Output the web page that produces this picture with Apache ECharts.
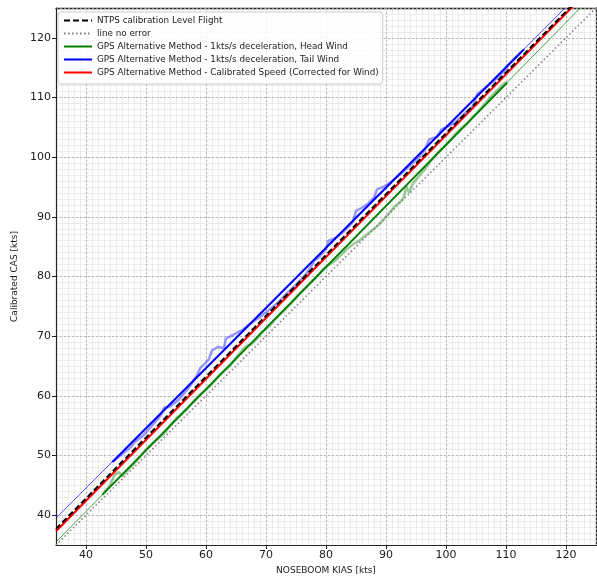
<!DOCTYPE html>
<html>
<head>
<meta charset="utf-8">
<script src="https://cdn.jsdelivr.net/npm/echarts@6/dist/echarts.min.js"></script>
<style>html,body{margin:0;padding:0;background:#fff;}#c{width:597px;height:580px;}</style>
</head>
<body>
<div id="c"></div>
<script>
// ---- data ----
const xTicks = [40, 50, 60, 70, 80, 90, 100, 110, 120];
const yTicks = [40, 50, 60, 70, 80, 90, 100, 110, 120];
const legendNames = [
  'NTPS calibration Level Flight',
  'line no error',
  'GPS Alternative Method - 1kts/s deceleration, Head Wind',
  'GPS Alternative Method - 1kts/s deceleration, Tail Wind',
  'GPS Alternative Method - Calibrated Speed (Corrected for Wind)'
];
// full-range lines (KIAS endpoints -> CAS endpoints)
const fullKIAS = [35, 125];
const ntpsCAS = [37.7, 129.5];
const noErrorCAS = [35, 125];
const windCorrCAS = [37.3, 129.2];
const headExtCAS = [35.5, 127.7];
const tailExtCAS = [39.5, 130.2];
// fitted segments over data range
const headFitKIAS = [42.7, 110.2];
const headFitCAS = [43.4, 112.5];
const tailFitKIAS = [44.4, 113.0];
const tailFitCAS = [48.9, 118.1];
// raw traces
const tailRawKIAS = [44.5,46.0,47.5,48.0,49.5,51.0,52.5,53.0,54.0,55.5,57.0,58.5,59.0,60.0,60.5,61.0,62.0,63.0,63.3,64.5,66.0,67.5,69.0,70.5,72.0,73.5,75.0,76.5,77.5,78.0,79.0,80.0,80.4,81.5,83.0,84.5,85.0,85.8,87.0,88.0,88.5,89.5,90.5,91.5,92.5,94.0,95.5,96.5,97.2,98.5,99.2,100.0,101.5,103.0,104.5,105.2,106.5,108.0,109.5,110.5,111.5,112.5];
const tailRawCAS  = [49.0,50.2,51.4,52.2,53.3,55.0,56.8,58.0,58.2,59.4,61.2,63.4,64.6,65.6,66.2,67.6,68.2,68.0,69.6,70.2,71.0,72.2,73.2,74.4,75.6,77.2,78.6,80.2,81.6,82.6,83.4,84.6,86.0,86.4,87.6,89.2,91.0,91.4,92.2,93.2,94.6,95.0,95.6,96.4,97.2,98.6,100.0,101.2,103.0,103.4,104.6,105.0,105.8,107.2,108.6,110.6,111.6,112.8,114.2,115.6,116.6,117.6];
const headRawKIAS = [43.0,44.0,44.8,45.5,46.0,47.0,48.0,49.0,50.0,51.0,52.0,53.0,54.0,55.0,56.0,57.0,58.0,59.0,60.0,61.0,62.0,63.0,64.0,65.0,66.0,66.8,67.5,68.5,69.5,70.5,71.5,72.5,73.5,74.5,75.5,76.5,77.5,78.5,79.5,80.5,81.5,82.5,83.5,84.5,85.5,86.5,87.5,88.5,89.5,90.5,91.5,92.5,93.0,93.4,93.8,94.5,95.5,96.5,97.5,98.5,99.5,100.5,101.5,102.5,103.5,104.5,105.5,106.5,107.5,108.5,109.5,110.0];
const headRawCAS  = [43.8,45.0,46.8,47.2,46.5,47.6,48.6,49.8,51.0,52.0,52.8,53.6,55.0,56.2,57.0,58.0,59.2,60.2,61.0,62.0,63.2,64.2,65.0,66.4,67.6,68.4,68.6,69.6,70.8,71.6,72.8,73.8,74.8,75.8,77.0,78.0,79.0,80.0,81.2,82.0,82.6,83.6,84.6,85.4,86.0,86.8,87.6,88.4,89.4,90.6,91.8,92.6,93.4,95.2,94.0,95.6,96.8,98.0,99.4,100.6,101.6,102.6,103.8,104.8,105.6,106.8,107.8,109.0,110.2,111.2,112.2,112.6];

const zip = (xs, ys) => xs.map((x, i) => [x, ys[i]]);
const FONT = 'DejaVu Sans';

const chart = echarts.init(document.getElementById('c'), null, {renderer: 'canvas'});

function mainAxis(pos, name, isY) {
  return {
    type: 'value', min: 35, max: 125, position: pos,
    splitNumber: 9, minInterval: 10, maxInterval: 10,
    name: name, nameLocation: 'middle', nameGap: isY ? 31 : 21,
    nameTextStyle: {fontFamily: FONT, fontSize: 9, color: '#222'},
    axisLine: {show: true, onZero: false, lineStyle: {color: '#222', width: 1.2}},
    axisTick: {show: true, inside: false, length: 4, lineStyle: {color: '#222', width: 1}},
    axisLabel: {
      show: true, fontFamily: FONT, fontSize: 11, color: '#222', margin: isY ? 5 : 5,
      showMinLabel: false, showMaxLabel: false,
      formatter: v => ((isY ? yTicks : xTicks).indexOf(v) >= 0 ? String(v) : '')
    },
    splitLine: {show: true, lineStyle: {color: '#a8a8a8', width: 0.8, type: [2, 2]}},
    z: 2
  };
}
function minorAxis(pos) {
  return {
    type: 'value', min: 35, max: 125, interval: 1, position: pos,
    axisLine: {show: true, onZero: false, lineStyle: {color: '#222', width: 1.3}},
    axisTick: {show: false}, axisLabel: {show: false},
    splitLine: {show: true, lineStyle: {color: '#e4e4e4', width: 0.7}},
    z: 1
  };
}

const lineBase = {type: 'line', symbol: 'none', showSymbol: false, animation: false, silent: true};

const option = {
  animation: false,
  backgroundColor: '#fff',
  grid: {left: 56, right: 1, top: 8, bottom: 30, containLabel: false},
  xAxis: [mainAxis('bottom', 'NOSEBOOM KIAS [kts]', false), minorAxis('top')],
  yAxis: [mainAxis('left', 'Calibrated CAS [kts]', true), minorAxis('right')],
  legend: {
    data: legendNames,
    orient: 'vertical', left: 58, top: 12,
    itemWidth: 28, itemHeight: 8, itemGap: 2,
    padding: [3, 4, 6, 5],
    itemStyle: {color: 'rgba(0,0,0,0)', borderWidth: 0, opacity: 0},
    backgroundColor: 'rgba(255,255,255,0.85)',
    borderColor: '#cccccc', borderWidth: 1, borderRadius: 3,
    textStyle: {fontFamily: FONT, fontSize: 8.8, color: '#222', lineHeight: 11},
    selectedMode: false
  },
  series: [
    Object.assign({}, lineBase, {name: 'tailRaw', data: zip(tailRawKIAS, tailRawCAS), lineStyle: {color: 'rgba(70,70,255,0.55)', width: 2.5}, z: 2}),
    Object.assign({}, lineBase, {name: 'headRaw', data: zip(headRawKIAS, headRawCAS), lineStyle: {color: 'rgba(30,140,30,0.45)', width: 2.5}, z: 2}),
    Object.assign({}, lineBase, {name: 'tailExt', data: zip(fullKIAS, tailExtCAS), lineStyle: {color: '#0000ff', width: 0.7}, z: 3}),
    Object.assign({}, lineBase, {name: 'headExt', data: zip(fullKIAS, headExtCAS), lineStyle: {color: '#008000', width: 0.7}, z: 3}),
    Object.assign({}, lineBase, {name: legendNames[1], data: zip(fullKIAS, noErrorCAS), lineStyle: {color: '#808080', width: 1.5, type: [1.5, 2.5]}, itemStyle: {color: '#808080'}, z: 4}),
    Object.assign({}, lineBase, {name: legendNames[2], data: zip(headFitKIAS, headFitCAS), lineStyle: {color: '#008000', width: 2}, itemStyle: {color: '#008000'}, z: 5}),
    Object.assign({}, lineBase, {name: legendNames[3], data: zip(tailFitKIAS, tailFitCAS), lineStyle: {color: '#0000ff', width: 2}, itemStyle: {color: '#0000ff'}, z: 5}),
    Object.assign({}, lineBase, {name: legendNames[4], data: zip(fullKIAS, windCorrCAS), lineStyle: {color: '#ff0000', width: 2}, itemStyle: {color: '#ff0000'}, z: 6}),
    Object.assign({}, lineBase, {name: legendNames[0], data: zip(fullKIAS, ntpsCAS), lineStyle: {color: '#000000', width: 2, type: [6, 3]}, itemStyle: {color: '#000000'}, z: 7})
  ]
};
chart.setOption(option);
</script>
</body>
</html>
